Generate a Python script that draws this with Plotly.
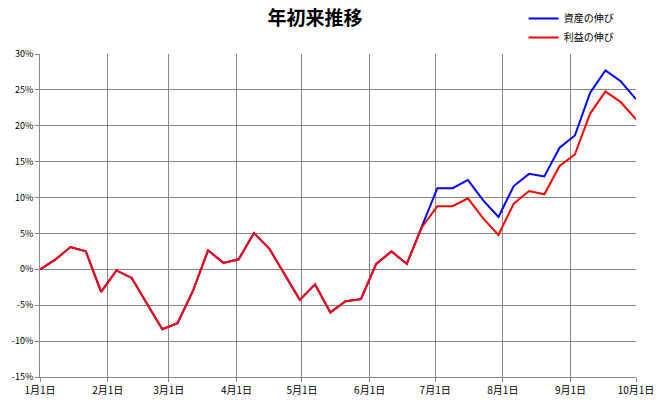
import plotly.graph_objects as go
import pandas as pd

# Weekly observation dates (Jan 1 to Oct 1, 2015)
dates = pd.date_range("2015-01-01", periods=40, freq="7D")

# 資産の伸び (asset growth, %)
asset = [0, 1.35, 3.1, 2.5, -3.15, -0.15, -1.2, -4.75, -8.35, -7.5,
         -3.05, 2.65, 0.9, 1.4, 5.05, 2.9, -0.65, -4.25, -2.1, -6.0,
         -4.45, -4.15, 0.75, 2.5, 0.75, 5.9, 11.3, 11.3, 12.45, 9.6,
         7.3, 11.6, 13.3, 12.95, 16.95, 18.65, 24.6, 27.7, 26.2, 23.7]

# 利益の伸び (profit growth, %)
profit = [0, 1.35, 3.1, 2.5, -3.15, -0.15, -1.2, -4.75, -8.35, -7.5,
          -3.05, 2.65, 0.9, 1.4, 5.05, 2.9, -0.65, -4.25, -2.1, -6.0,
          -4.45, -4.15, 0.75, 2.5, 0.75, 5.9, 8.8, 8.8, 9.9, 7.1,
          4.8, 9.15, 10.9, 10.45, 14.4, 16.0, 21.7, 24.8, 23.3, 20.9]

tick_dates = pd.date_range("2015-01-01", periods=10, freq="MS")
tick_text = ["1月1日", "2月1日", "3月1日", "4月1日", "5月1日",
             "6月1日", "7月1日", "8月1日", "9月1日", "10月1日"]
y_ticks = [-15, -10, -5, 0, 5, 10, 15, 20, 25, 30]
y_text = [f"{v}%" for v in y_ticks]

font = "Noto Sans CJK JP"
grid = "#878787"

fig = go.Figure()
fig.add_trace(go.Scatter(x=dates, y=asset, mode="lines", name="資産の伸び",
                         line=dict(color="#0000FF", width=2)))
fig.add_trace(go.Scatter(x=dates, y=profit, mode="lines", name="利益の伸び",
                         line=dict(color="#FF0000", width=2)))

fig.update_layout(
    width=657, height=410,
    margin=dict(l=40, r=21, t=54, b=33, autoexpand=False),
    paper_bgcolor="white", plot_bgcolor="white",
    font=dict(family=font, color="black", size=9),
    title=dict(text="<b>年初来推移</b>", x=315/657, xanchor="center",
               y=1-18/410, yanchor="middle",
               font=dict(family=font, size=19, color="black")),
    legend=dict(x=0.797, y=1-4/410, xref="container", yref="container",
                xanchor="left", yanchor="top",
                font=dict(family=font, size=10, color="black"),
                bgcolor="rgba(0,0,0,0)", itemwidth=30, tracegroupgap=0),
    showlegend=True,
)
fig.update_xaxes(
    type="date", range=[tick_dates[0], tick_dates[-1]],
    tickvals=tick_dates, ticktext=tick_text, tickangle=0,
    showgrid=True, gridcolor=grid, gridwidth=1,
    showline=True, linecolor=grid, linewidth=1, mirror=False,
    ticks="outside", ticklen=4, tickcolor=grid,
    tickfont=dict(family=font, size=10, color="black"),
    zeroline=False, automargin=False,
)
fig.update_yaxes(
    range=[-15, 30], tickvals=y_ticks, ticktext=y_text,
    showgrid=True, gridcolor=grid, gridwidth=1,
    showline=True, linecolor=grid, linewidth=1,
    ticks="outside", ticklen=4, tickcolor=grid,
    tickfont=dict(family=font, size=9, color="black"),
    zeroline=False, automargin=False,
)

fig.write_html("out.html", config={"displayModeBar": False},
               post_script="document.body.style.margin='0';document.body.style.overflow='hidden';")
